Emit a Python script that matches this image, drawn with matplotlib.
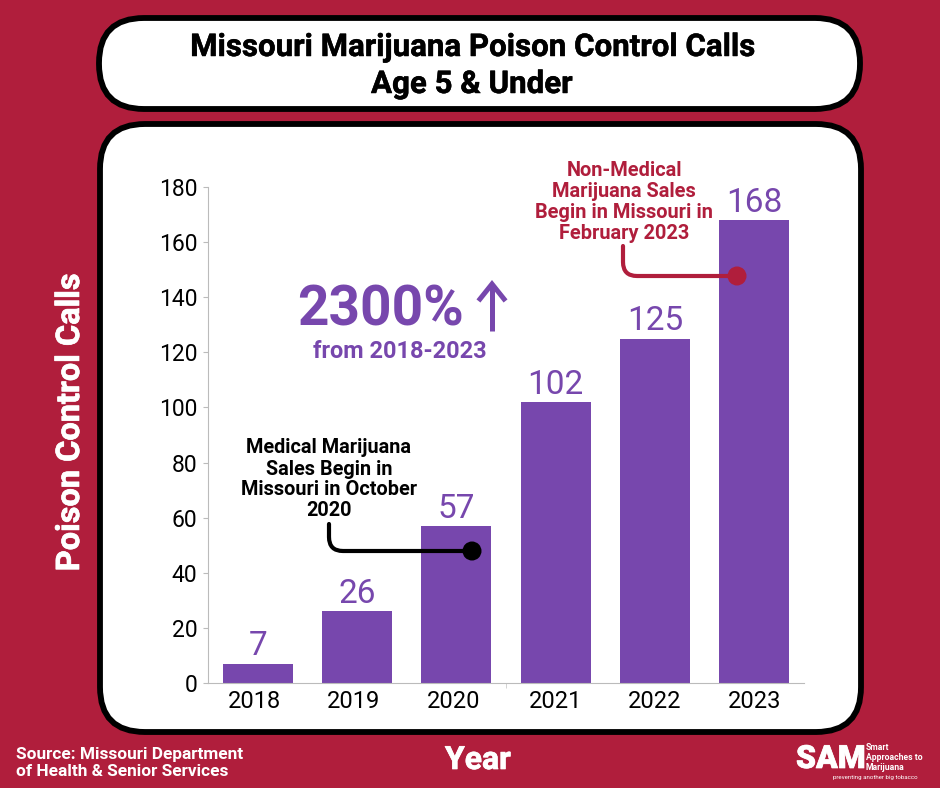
import matplotlib
matplotlib.use("Agg")
import matplotlib.pyplot as plt
import matplotlib.patheffects as pe
from matplotlib.patches import FancyBboxPatch, Circle, PathPatch
from matplotlib.path import Path
from matplotlib.transforms import ScaledTranslation

years = ["2018", "2019", "2020", "2021", "2022", "2023"]
calls = [7, 26, 57, 102, 125, 168]
y_ticks = [0, 20, 40, 60, 80, 100, 120, 140, 160, 180]

red = "#B01E3C"
purple = "#7747AD"
heavy = [pe.withStroke(linewidth=0.35, foreground="black")]
heavy_white = [pe.withStroke(linewidth=0.5, foreground="white")]

plt.rcParams["font.family"] = ["Roboto", "DejaVu Sans"]

fig = plt.figure(figsize=(9.4, 7.88), dpi=100, facecolor=red)

# overlay in pixel coordinates for the boxes and callouts
bg = fig.add_axes([0, 0, 1, 1])
bg.set_xlim(0, 940)
bg.set_ylim(788, 0)
bg.axis("off")

bg.add_patch(FancyBboxPatch((99, 18), 761, 91, boxstyle="round,pad=0,rounding_size=45",
                            fc="white", ec="black", lw=4.2))
bg.add_patch(FancyBboxPatch((100, 124), 761, 608, boxstyle="round,pad=0,rounding_size=45",
                            fc="white", ec="black", lw=4.2))

bg.text(472, 47, "Missouri Marijuana Poison Control Calls", ha="center", va="center",
        fontsize=22.5, fontweight="bold", color="black", path_effects=heavy)
bg.text(472, 84, "Age 5 & Under", ha="center", va="center",
        fontsize=22.5, fontweight="bold", color="black", path_effects=heavy)

bg.text(70, 422, "Poison Control Calls", rotation=90, ha="center", va="center",
        fontsize=23.4, fontweight="bold", color="white", path_effects=heavy_white)
bg.text(478, 760, "Year", ha="center", va="center", fontsize=23, fontweight="bold",
        color="white", path_effects=heavy_white)
bg.text(16, 754, "Source: Missouri Department", ha="left", va="center",
        fontsize=12.4, fontweight="bold", color="white")
bg.text(16, 771, "of Health & Senior Services", ha="left", va="center",
        fontsize=12.4, fontweight="bold", color="white")

# SAM logo
bg.text(796, 759, "SAM", ha="left", va="center", fontsize=23, fontweight="black", color="white",
        path_effects=heavy_white)
bg.text(866, 748, "Smart", ha="left", va="center", fontsize=6.2, fontweight="bold", color="white")
bg.text(866, 758, "Approaches to", ha="left", va="center", fontsize=6.2, fontweight="bold", color="white")
bg.text(866, 767, "Marijuana", ha="left", va="center", fontsize=6.2, fontweight="bold", color="white")
bg.text(875, 777, "preventing another big tobacco", ha="center", va="center", fontsize=4.4, color="white")

ax = fig.add_axes([208 / 940, (788 - 683) / 788, 596 / 940, 496 / 788])
ax.patch.set_alpha(0)
ax.bar(range(len(years)), calls, width=0.705, color=purple)
ax.set_xlim(-0.5, 5.5)
ax.set_ylim(0, 180)
ax.set_xticks(range(len(years)))
ax.set_xticklabels(years)
ax.set_xticks([2.5], minor=True)
ax.set_yticks(y_ticks)
ax.tick_params(axis="x", which="major", length=0, labelsize=17, pad=5, labelcolor="black")
ax.tick_params(axis="x", which="minor", length=3.6, color="#cccccc")
ax.tick_params(axis="y", length=3.6, labelsize=16.5, pad=4, color="#bbbbbb", labelcolor="black")
# the first three year labels sit a little left of their bars
for lab in ax.get_xticklabels()[:3]:
    lab.set_transform(lab.get_transform() + ScaledTranslation(-3 / 100, 0, fig.dpi_scale_trans))
for s in ["top", "right"]:
    ax.spines[s].set_visible(False)
ax.spines["left"].set_color("#bbbbbb")
ax.spines["bottom"].set_color("#bbbbbb")
for i, v in enumerate(calls):
    ax.text(i, v + 0.5, str(v), ha="center", va="bottom", fontsize=24, color=purple)

# callouts drawn on top of the bars
top = fig.add_axes([0, 0, 1, 1])
top.set_xlim(0, 940)
top.set_ylim(788, 0)
top.axis("off")

top.text(464, 310, "2300%", ha="right", va="center", fontsize=39.5,
         fontweight="bold", color=purple)
top.plot([492, 492], [284, 331], color=purple, lw=3.6, solid_capstyle="butt")
top.plot([480, 492, 504], [299, 284, 299], color=purple, lw=3.6, solid_joinstyle="miter")
top.text(400, 351, "from 2018-2023", ha="center", va="center", fontsize=16.9,
         fontweight="bold", color=purple)

for y, line in zip([447, 469, 489, 510],
                   ["Medical Marijuana", "Sales Begin in", "Missouri in October", "2020"]):
    top.text(329, y, line, ha="center", va="center", fontsize=14.3, fontweight="bold", color="black")
for y, line in zip([170, 191, 212, 233],
                   ["Non-Medical", "Marijuana Sales", "Begin in Missouri in", "February 2023"]):
    top.text(624, y, line, ha="center", va="center", fontsize=14.4, fontweight="bold", color=red)


def callout(x0, y0, y1, x1, color):
    verts = [(x0, y0), (x0, y1 - 14), (x0, y1), (x0 + 14, y1), (x1, y1)]
    codes = [Path.MOVETO, Path.LINETO, Path.CURVE3, Path.CURVE3, Path.LINETO]
    top.add_patch(PathPatch(Path(verts, codes), fc="none", ec=color, lw=3, capstyle="round"))
    top.add_patch(Circle((x1, y1), 9.5, fc=color, ec="none"))


callout(329, 524, 551, 472, "black")
callout(623, 246, 276, 737, red)

fig.savefig("out.png", dpi=100, facecolor=red)
